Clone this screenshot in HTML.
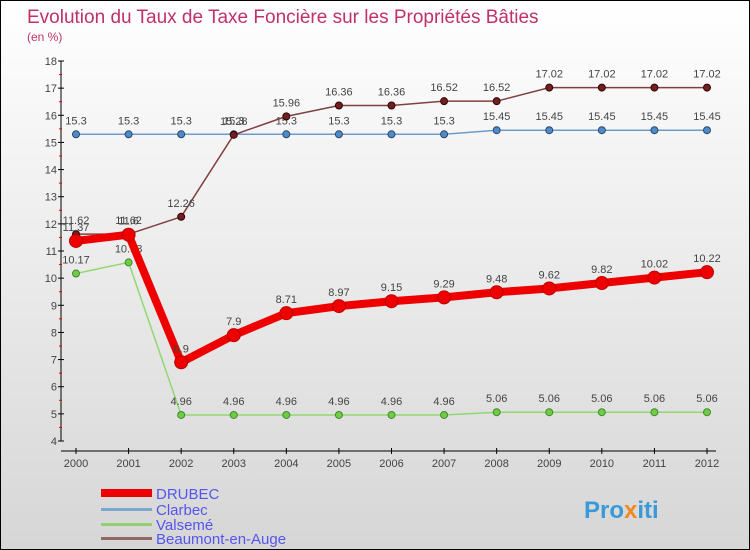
<!DOCTYPE html>
<html><head><meta charset="utf-8"><style>
body{margin:0}
#c{width:748px;height:548px;border:1px solid #000;background:linear-gradient(#fff,#d6d6d6);position:relative;overflow:hidden;font-family:"Liberation Sans",sans-serif}
</style></head><body>
<div id="c">
<svg id="s" width="748" height="548" xmlns="http://www.w3.org/2000/svg">
<text x="26" y="22" font-size="19" fill="#c0306a">Evolution du Taux de Taxe Foncière sur les Propriétés Bâties</text>
<text x="26" y="40" font-size="12" fill="#c0306a">(en %)</text>
<g id="axes"></g><g id="series"></g>
<g>
<rect x="100" y="488" width="51" height="8" fill="#e00"/>
<text x="155" y="498" font-size="15" fill="#55e">DRUBEC</text>
<rect x="100" y="507" width="51" height="3" fill="#7aa6cc"/>
<text x="155" y="514" font-size="15" fill="#55e">Clarbec</text>
<rect x="100" y="522" width="51" height="3" fill="#90d070"/>
<text x="155" y="529" font-size="15" fill="#55e">Valsemé</text>
<rect x="100" y="536" width="51" height="3" fill="#906868"/>
<text x="155" y="543" font-size="15" fill="#55e">Beaumont-en-Auge</text>
</g>
<text x="583" y="517" font-size="24" font-weight="bold" fill="#3a9ad8">Pro<tspan fill="#f08a20">x</tspan>iti</text>
</svg></div>
<script>
const years=["2000","2001","2002","2003","2004","2005","2006","2007","2008","2009","2010","2011","2012"];
const yTicks=[4,5,6,7,8,9,10,11,12,13,14,15,16,17,18];
const drubec=[11.37,11.6,6.9,7.9,8.71,8.97,9.15,9.29,9.48,9.62,9.82,10.02,10.22];
const clarbec=[15.3,15.3,15.3,15.3,15.3,15.3,15.3,15.3,15.45,15.45,15.45,15.45,15.45];
const valseme=[10.17,10.58,4.96,4.96,4.96,4.96,4.96,4.96,5.06,5.06,5.06,5.06,5.06];
const beaumont=[11.62,11.62,12.26,15.28,15.96,16.36,16.36,16.52,16.52,17.02,17.02,17.02,17.02];
const NS="http://www.w3.org/2000/svg";
const x=i=>75+i*(706-75)/(years.length-1);
const y=v=>440-(v-4)*(380/14);
function mk(t,a,p){const e=document.createElementNS(NS,t);for(const k in a)e.setAttribute(k,a[k]);p.appendChild(e);return e;}
const ax=document.getElementById('axes');
let l=mk('line',{x1:60,y1:60,x2:60,y2:440,stroke:'#000'},ax);


l=mk('line',{x1:60,y1:450,x2:715,y2:450,stroke:'#000'},ax);


yTicks.forEach(v=>{
 mk('line',{x1:57,x2:63,y1:y(v),y2:y(v),stroke:'#000'},ax);
 if(v<18)mk('line',{x1:58,x2:61,y1:y(v+0.5),y2:y(v+0.5),stroke:'#e00'},ax);
 const t=mk('text',{x:56,y:y(v)+4,'font-size':11,'text-anchor':'end',fill:'#444'},ax);t.textContent=v;
 
 
});
years.forEach((yr,i)=>{
 mk('line',{x1:x(i),x2:x(i),y1:447,y2:453,stroke:'#000'},ax);
 const t=mk('text',{x:x(i),y:466,'font-size':11,'text-anchor':'middle',fill:'#444'},ax);t.textContent=yr;
 
 
});
const sg=document.getElementById('series');
function series(d,name,col,w,r,dot,edge){
 const g=mk('g',{},sg);
 
 
 const p=mk('polyline',{points:d.map((v,i)=>x(i)+','+y(v)).join(' '),fill:'none',stroke:col,'stroke-width':w,'stroke-linejoin':'round'},g);
 
 
 d.forEach((v,i)=>{
  const c=mk('circle',{cx:x(i),cy:y(v),r:r,fill:dot,stroke:edge,'stroke-width':1},g);
  
  
  const t=mk('text',{x:x(i),y:y(v)-10,'font-size':11,'text-anchor':'middle',fill:'#444'},g);t.textContent=v;
  
  
 });
}
series(clarbec,'clarbec','#6a9ccc',1.5,3.5,'#4a8ccc','#346');
series(valseme,'valseme','#90d870',1.5,3.5,'#70cc40','#483');
series(beaumont,'beaumont','#804040',1.5,3.5,'#702020','#300');
series(drubec,'drubec','#ee0000',8,6.5,'#ee0000','#b00');
</script>
</body></html>
